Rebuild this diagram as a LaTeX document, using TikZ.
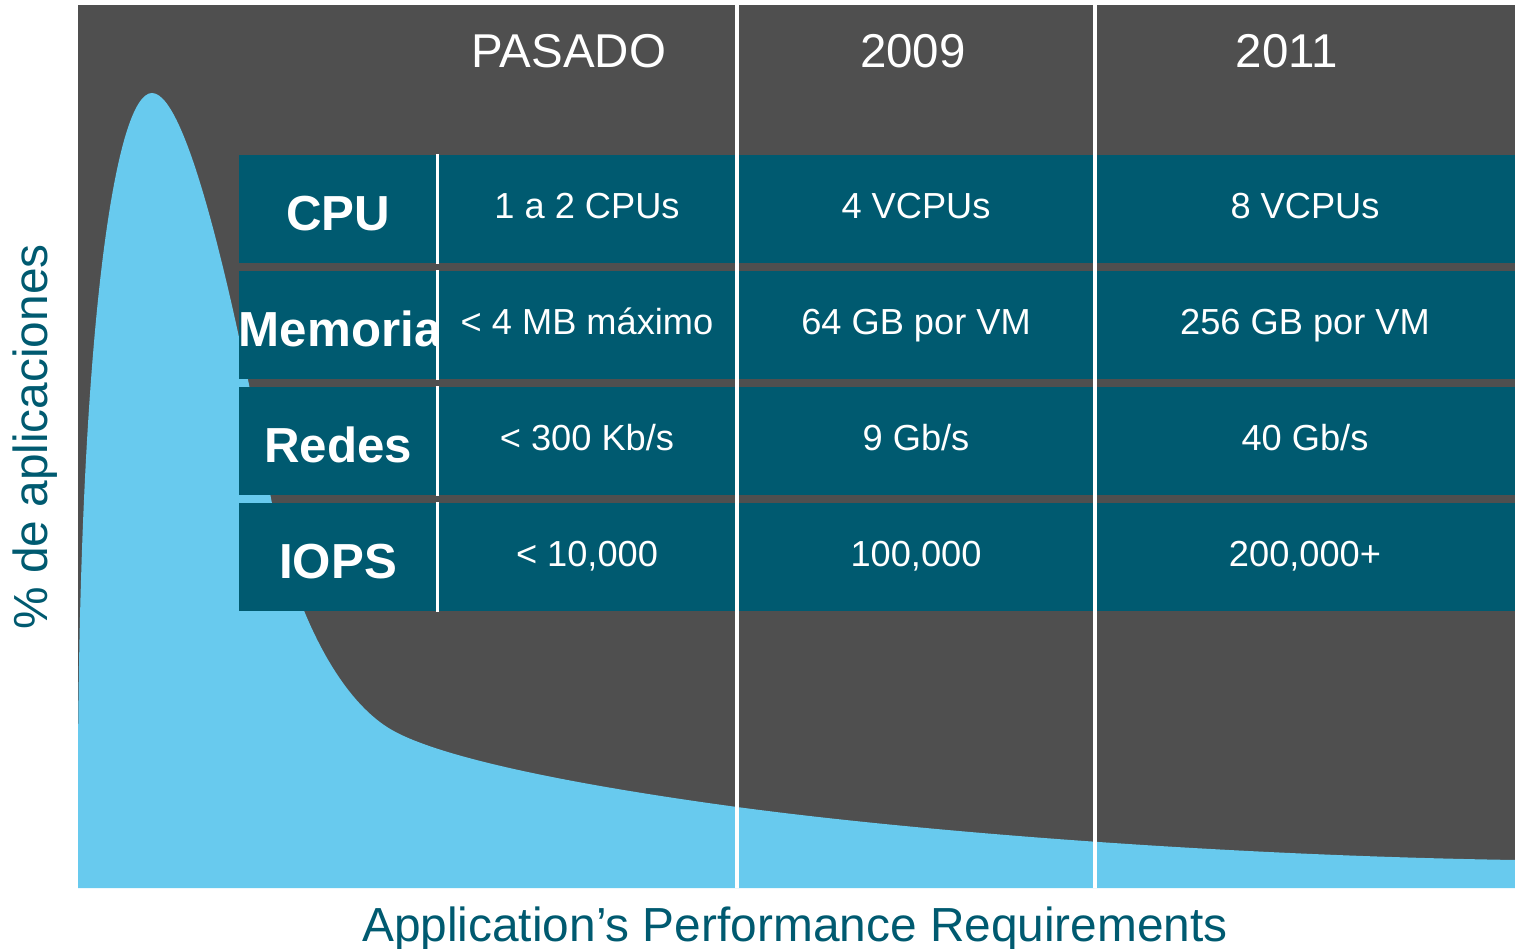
\documentclass[tikz,border=0pt]{standalone}
\usepackage{fontspec}
\setmainfont{Liberation Sans}
\definecolor{bggray}{RGB}{79,79,79}
\definecolor{curveblue}{RGB}{104,202,238}
\definecolor{rowteal}{RGB}{0,90,112}

\begin{document}
\begin{tikzpicture}[x=0.01cm,y=-0.01cm,node distance=1.16cm]
\tikzstyle{rowname}=[fill=rowteal,text=white,font=\fontsize{14}{16}\selectfont\bfseries,
  text width=1.98cm,align=center,minimum height=1.08cm,inner sep=0pt,
  text height=0.45cm,text depth=0.02cm]
\tikzstyle{cell}=[fill=rowteal,text=white,font=\fontsize{10.3}{12}\selectfont,
  minimum height=1.08cm,inner sep=0pt,text height=0.2cm,text depth=0.02cm]
\tikzstyle{colA}=[minimum width=3cm]
\tikzstyle{colB}=[minimum width=3.58cm]
\tikzstyle{colC}=[minimum width=4.2cm]
\tikzstyle{year}=[text=white,font=\fontsize{13.5}{16}\selectfont]
\tikzstyle{axis}=[text=rowteal,font=\fontsize{13.6}{16}\selectfont]
\tikzstyle{divider}=[white,line width=1.1pt]
\useasboundingbox (0,0) rectangle (1515,949);
% background and distribution curve
\fill[bggray] (78,5) rectangle (1515,888);
\fill[curveblue] (78,888) -- (78,760)
  .. controls (80,330) and (115,93) .. (152,93)
  .. controls (190,93) and (240,330) .. (270,493)
  .. controls (288,591) and (330,690) .. (387,727)
  .. controls (430,755) and (560,783) .. (737,807)
  .. controls (900,829) and (1200,855) .. (1515,860)
  -- (1515,888) -- cycle;
% table
\node[rowname] (cpu) at (338,209) {CPU};
\node[rowname,below of=cpu] (mem) {Memoria};
\node[rowname,below of=mem] (net) {Redes};
\node[rowname,below of=net] (iops) {IOPS};
\node[cell,colA] (cpu1) at (587,209) {1 a 2 CPUs};
\node[cell,colA,below of=cpu1] (mem1) {< 4 MB máximo};
\node[cell,colA,below of=mem1] (net1) {< 300 Kb/s};
\node[cell,colA,below of=net1] (iops1) {< 10,000};
\node[cell,colB] (cpu2) at (916,209) {4 VCPUs};
\node[cell,colB,below of=cpu2] (mem2) {64 GB por VM};
\node[cell,colB,below of=mem2] (net2) {9 Gb/s};
\node[cell,colB,below of=net2] (iops2) {100,000};
\node[cell,colC] (cpu3) at (1305,209) {8 VCPUs};
\node[cell,colC,below of=cpu3] (mem3) {256 GB por VM};
\node[cell,colC,below of=mem3] (net3) {40 Gb/s};
\node[cell,colC,below of=net3] (iops3) {200,000+};
\foreach \r in {cpu,mem,net,iops}
  \draw[white,line width=0.85pt] (\r.north east) -- (\r.south east);
\draw[divider] (737,5) -- (737,888);
\draw[divider] (1095,5) -- (1095,888);
% headings and axes
\node[year] (past) at (569,51) {PASADO};
\node[year] (y2009) at (913,51) {2009};
\node[year] (y2011) at (1287,51) {2011};
\node[axis,rotate=90] (ylab) at (35,437) {\% de aplicaciones};
\node[axis] (xlab) at (795,929) {Application’s Performance Requirements};
\end{tikzpicture}
\end{document}
